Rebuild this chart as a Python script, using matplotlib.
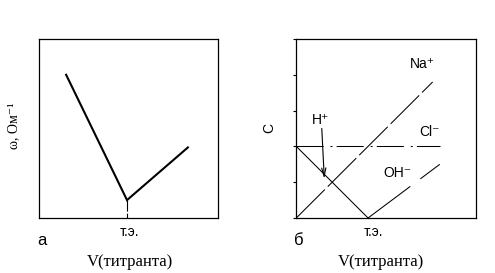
import matplotlib
matplotlib.use("Agg")
from matplotlib import pyplot as plt

plt.rcParams['lines.scale_dashes'] = False

# panel a: conductivity vs titrant volume
cond_x = [0.75, 2.45, 4.15]
cond_y = [4.0, 0.5, 1.97]
eq_x_a = 2.45

# panel b: ion concentrations
na_x = [0.0, 3.8]
na_y = [0.0, 3.8]
cl_x = [0.0, 4.0]
cl_y = [2.0, 2.0]
h_x = [0.0, 2.0]
h_y = [2.0, 0.0]
oh_x = [2.0, 4.0]
oh_y = [0.0, 1.5]
c_ticks = [0, 1, 2, 3, 4, 5]
eq_x_b = 2.0

sans = ['Liberation Sans', 'DejaVu Sans']
serif = ['Liberation Serif', 'DejaVu Serif']

fig = plt.figure(figsize=(4.95, 2.73), dpi=100)
ax1 = fig.add_axes([0.0794, 0.2015, 0.3616, 0.6557])
ax2 = fig.add_axes([0.5986, 0.2015, 0.3624, 0.6557])

for ax in (ax1, ax2):
    ax.set_xlim(0, 5)
    ax.set_ylim(0, 5)
    for s in ax.spines.values():
        s.set_linewidth(0.9)
    ax.set_xticks([])

# --- a ---
ax1.set_yticks([])
ax1.plot(cond_x, cond_y, color='black', lw=1.5, solid_joinstyle='miter')
ax1.plot([eq_x_a, eq_x_a], [cond_y[1], 0], color='black', lw=0.8,
         linestyle=(0, (8, 1.5)))
ax1.text(2.53, -0.39, 'т.э.', family=sans, fontsize=10, ha='center', va='center',
         clip_on=False)
ax1.text(0.08, -0.64, 'а', family=sans, fontsize=12, ha='center', va='center')
ax1.text(2.53, -1.23, 'V(титранта)', family=serif, fontsize=12, ha='center',
         va='center')
fig.text(14 / 495, 0.54, 'ω, Ом⁻¹', family=serif, fontsize=10, rotation=90,
         ha='center', va='center')

# --- b ---
ax2.set_yticks(c_ticks)
ax2.set_yticklabels([])
ax2.tick_params(axis='y', direction='out', length=2.5, width=0.8)
ax2.plot(na_x, na_y, color='black', lw=0.75, linestyle=(0, (29, 3)))
ax2.plot(cl_x, cl_y, color='black', lw=0.75, linestyle=(0, (19.5, 5, 1.4, 3)))
ax2.plot(h_x, h_y, color='black', lw=0.75)
ax2.plot(oh_x, oh_y, color='black', lw=0.75, linestyle=(0, (38, 9)))
ax2.annotate('', xy=(0.78, 1.1), xytext=(0.71, 2.5),
             arrowprops=dict(arrowstyle='->,head_length=0.6,head_width=0.15',
                             color='black', lw=0.8, shrinkA=0, shrinkB=0))
ax2.text(3.5, 4.3, 'Na⁺', family=sans, fontsize=10, ha='center', va='center')
ax2.text(3.72, 2.4, 'Cl⁻', family=sans, fontsize=10, ha='center', va='center')
ax2.text(2.83, 1.25, 'OH⁻', family=sans, fontsize=10, ha='center', va='center')
ax2.text(0.68, 2.73, 'H⁺', family=sans, fontsize=10, ha='center', va='center')
ax2.text(2.15, -0.39, 'т.э.', family=sans, fontsize=10, ha='center', va='center')
ax2.text(0.08, -0.64, 'б', family=sans, fontsize=12, ha='center', va='center')
ax2.text(2.37, -1.23, 'V(титранта)', family=serif, fontsize=12, ha='center',
         va='center')
ax2.text(-0.75, 2.5, 'C', family=sans, fontsize=10, rotation=90,
         ha='center', va='center')

fig.savefig('out.png', dpi=100)
